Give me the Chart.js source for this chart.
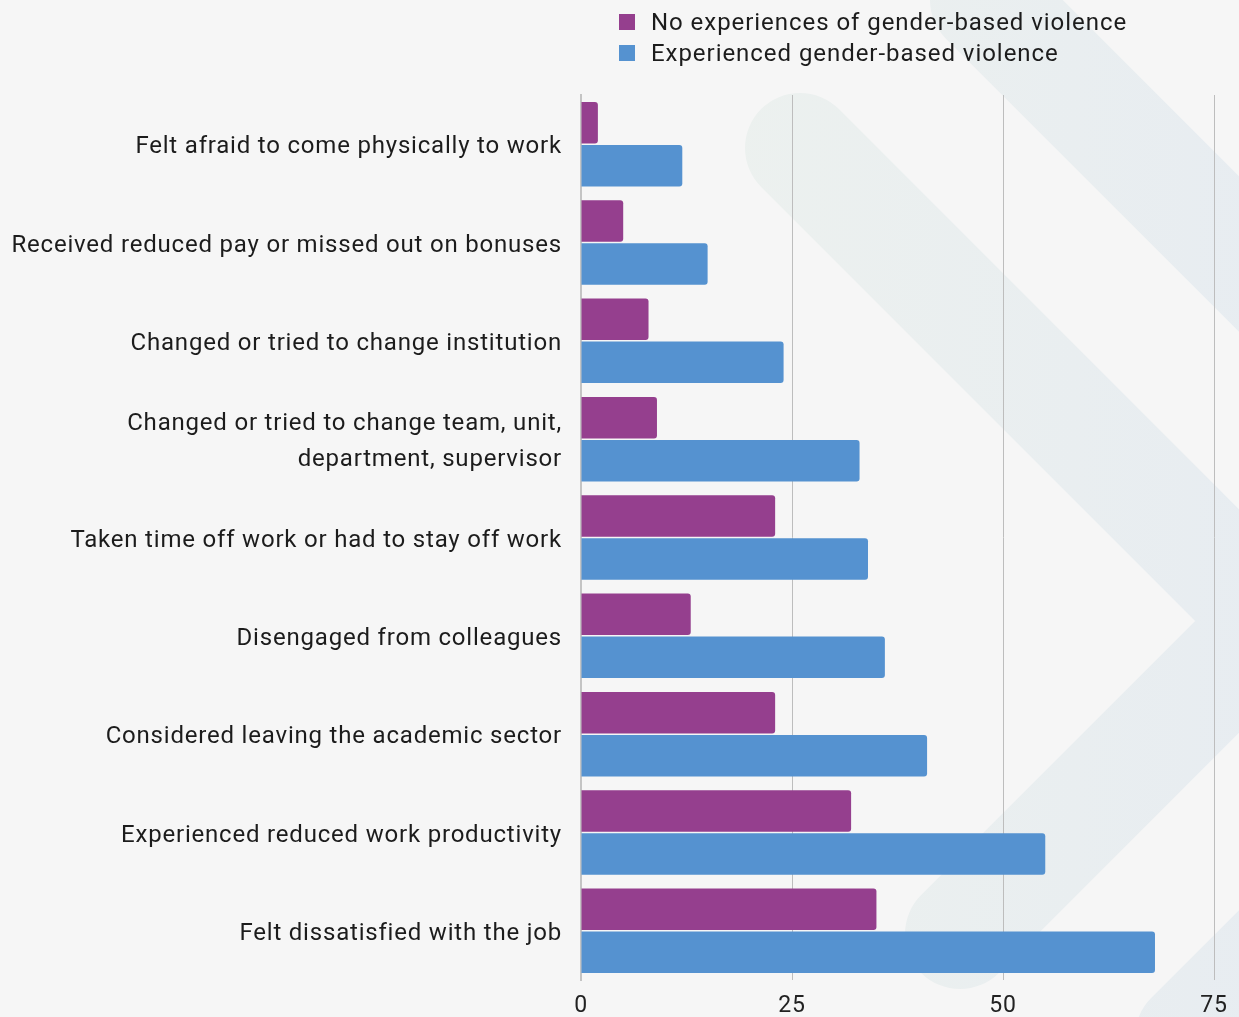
<!DOCTYPE html>
<html lang="en">
<head>
    <meta charset="UTF-8">
    <title>Impact of gender-based violence</title>
    <script src="https://cdn.jsdelivr.net/npm/chart.js"></script>
    <style>
        body, html {
            margin: 0;
            padding: 0;
            background-color: #f6f6f6;
            font-family: 'Roboto', sans-serif;
        }
        .wrap {
            position: relative;
            width: 1239px;
            height: 1017px;
        }
        .legend {
            position: absolute;
            left: 619px;
            top: 6px;
            z-index: 2;
        }
        .legend-item {
            display: flex;
            align-items: center;
            height: 31px;
            font-size: 24px;
            letter-spacing: 0.95px;
            color: #1c1c1c;
        }
        .legend-box {
            width: 16px;
            height: 16px;
            margin-right: 16px;
        }
    </style>
</head>
<body>
    <div class="wrap">
        <div class="legend" id="legend"></div>
        <canvas id="chart" width="1239" height="1017"></canvas>
    </div>

    <script>
        // Data (percent)
        const categories = [
            'Felt afraid to come physically to work',
            'Received reduced pay or missed out on bonuses',
            'Changed or tried to change institution',
            ['Changed or tried to change team, unit,', 'department, supervisor'],
            'Taken time off work or had to stay off work',
            'Disengaged from colleagues',
            'Considered leaving the academic sector',
            'Experienced reduced work productivity',
            'Felt dissatisfied with the job'
        ];
        const seriesNames = ['No experiences of gender-based violence', 'Experienced gender-based violence'];
        const noViolence = [2, 5, 8, 9, 23, 13, 23, 32, 35];
        const experienced = [12, 15, 24, 33, 34, 36, 41, 55, 68];
        const xTicks = [0, 25, 50, 75];

        const colors = ['#953f8e', '#5592d0'];

        // legend
        const legendEl = document.getElementById('legend');
        seriesNames.forEach((name, i) => {
            const item = document.createElement('div');
            item.className = 'legend-item';
            item.innerHTML = '<span class="legend-box" style="background:' + colors[i] + '"></span>' + name;
            legendEl.appendChild(item);
        });

        // faint chevrons in the background + wider text spacing
        const backdrop = {
            id: 'backdrop',
            beforeInit(chart) {
                chart.ctx.letterSpacing = '0.8px';
            },
            beforeDraw(chart) {
                const ctx = chart.ctx;
                ctx.save();
                ctx.fillStyle = '#f6f6f6';
                ctx.fillRect(0, 0, chart.width, chart.height);
                const grad = ctx.createLinearGradient(700, 0, 1239, 0);
                grad.addColorStop(0, 'rgba(233,239,236,0.75)');
                grad.addColorStop(1, 'rgba(229,235,240,0.85)');
                ctx.strokeStyle = grad;
                ctx.lineWidth = 110;
                ctx.lineCap = 'round';
                ctx.lineJoin = 'miter';
                ctx.beginPath();
                ctx.moveTo(800, 148);
                ctx.lineTo(1273, 621);
                ctx.lineTo(960, 934);
                ctx.stroke();
                ctx.beginPath();
                ctx.moveTo(985, 0);
                ctx.lineTo(1606, 621);
                ctx.lineTo(1190, 1037);
                ctx.stroke();
                ctx.restore();
                ctx.letterSpacing = '0.8px';
            }
        };

        new Chart(document.getElementById('chart').getContext('2d'), {
            type: 'bar',
            data: {
                labels: categories,
                datasets: [{
                    label: seriesNames[0],
                    data: noViolence,
                    backgroundColor: colors[0],
                    borderRadius: 3,
                    borderSkipped: 'start',
                    categoryPercentage: 0.875,
                    barPercentage: 0.965
                }, {
                    label: seriesNames[1],
                    data: experienced,
                    backgroundColor: colors[1],
                    borderRadius: 3,
                    borderSkipped: 'start',
                    categoryPercentage: 0.875,
                    barPercentage: 0.965
                }]
            },
            options: {
                indexAxis: 'y',
                responsive: false,
                animation: false,
                layout: {
                    padding: { top: 95, right: 23, bottom: 0, left: 0 }
                },
                plugins: {
                    legend: { display: false },
                    tooltip: { enabled: false }
                },
                scales: {
                    x: {
                        min: 0,
                        max: 75,
                        afterBuildTicks(scale) {
                            scale.ticks = xTicks.map(v => ({ value: v }));
                        },
                        afterFit(scale) {
                            scale.height = 37;
                        },
                        grid: {
                            color: '#bdbdbd',
                            lineWidth: 1,
                            drawTicks: false
                        },
                        border: { display: false },
                        ticks: {
                            color: '#222',
                            padding: 12,
                            font: { family: 'Roboto', size: 23 }
                        }
                    },
                    y: {
                        afterFit(scale) {
                            scale.width = 581;
                        },
                        grid: { display: false },
                        border: { display: true, color: '#c4c4c4', width: 2 },
                        ticks: {
                            color: '#1c1c1c',
                            padding: 11,
                            labelOffset: 3,
                            font: { family: 'Roboto', size: 24, lineHeight: 1.5 }
                        }
                    }
                }
            },
            plugins: [backdrop]
        });
    </script>
</body>
</html>
